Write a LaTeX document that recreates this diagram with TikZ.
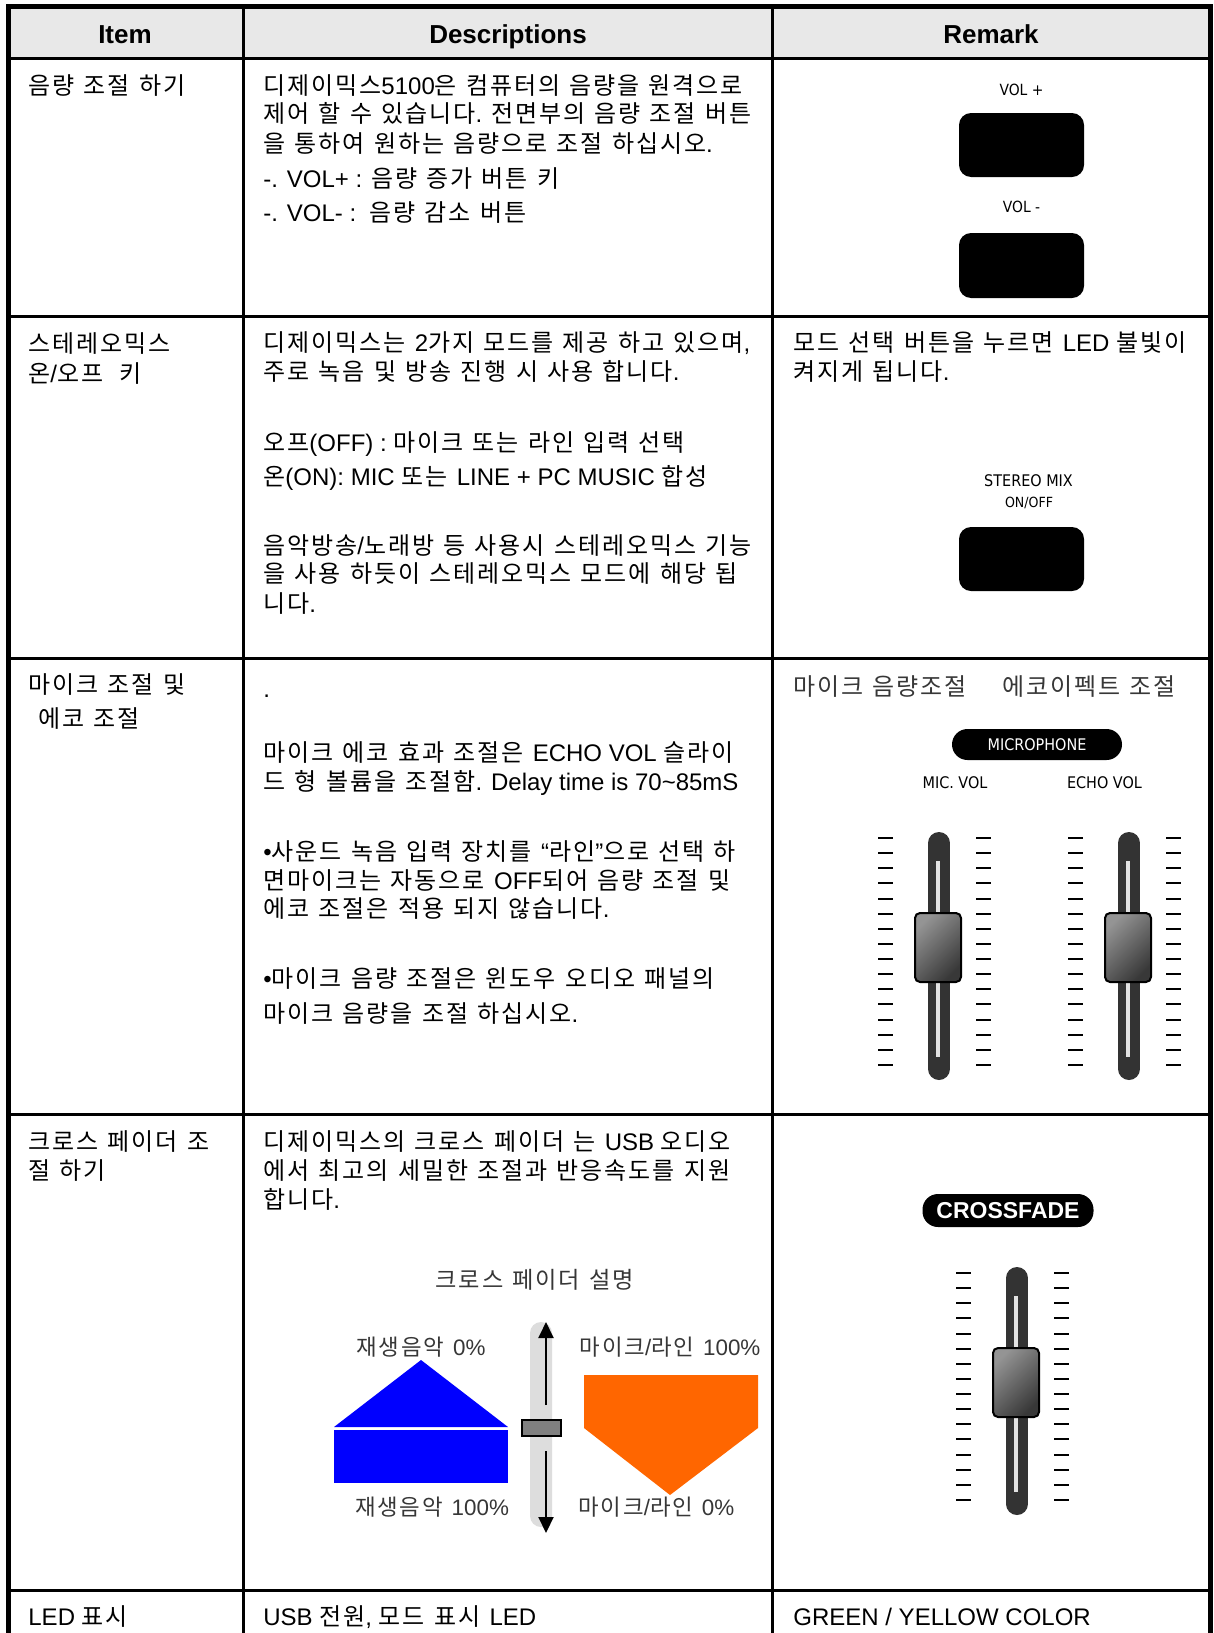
\documentclass[tikz,border=0pt]{standalone}
\usepackage{fontspec}
\setmainfont{Liberation Sans}
\newfontfamily\krfont[LetterSpace=8]{Noto Sans CJK KR}
\newfontfamily\lblfont[FakeStretch=0.9]{DejaVu Sans}
\usetikzlibrary{arrows.meta}
% automatic switch to the Korean font for Hangul syllables
\XeTeXinterchartokenstate=1
\newXeTeXintercharclass\krclass
\newcount\kri
\kri="AC00
\loop
\XeTeXcharclass\kri=\krclass
\ifnum\kri<"D7A3
\advance\kri by 1
\repeat
\XeTeXinterchartoks 0 \krclass = {\krfont}
\XeTeXinterchartoks 4095 \krclass = {\krfont}
\XeTeXinterchartoks \krclass 0 = {\rmfamily}
\XeTeXinterchartoks \krclass 4095 = {\rmfamily\kern1.3pt\relax}

\definecolor{hdr}{RGB}{232,232,232}
\definecolor{trk}{RGB}{51,51,51}
\definecolor{slotc}{RGB}{226,226,226}
\definecolor{fbar}{RGB}{221,221,221}
\definecolor{orng}{RGB}{255,102,0}
\definecolor{lblgray}{RGB}{55,55,55}

\tikzset{
  txt/.style={anchor=base west, yshift=-4.5pt, inner sep=0pt, font=\fontsize{12}{14}\selectfont},
  hd/.style={anchor=base, yshift=-4.65pt, inner sep=0pt, font=\bfseries\fontsize{13}{15}\selectfont},
  lbl/.style={inner sep=0pt, font=\lblfont\fontsize{8}{10}\selectfont},
  kgray/.style={inner sep=0pt, text=lblgray, font=\fontsize{11.2}{13}\selectfont},
  kgraybig/.style={inner sep=0pt, text=lblgray, font=\fontsize{12}{14}\selectfont},
  rule/.style={line width=1.5pt},
  frame/.style={line width=2.5pt},
  btn/.style={fill=black, rounded corners=6pt},
  tick/.style={line width=1pt},
  pill/.style={fill=black, text=white, inner sep=0pt, rounded corners=7.75pt},
}

\newcommand\drawfader[2]{%
\begin{scope}[shift={(#1,#2)}]
  \draw[line width=11pt, line cap=round, trk] (0,843) -- (0,1069);
  \draw[line width=2pt, slotc] (-1,861) -- (-1,1057);
  \foreach \k in {0,...,15}{
    \draw[tick] (-61,838+15.13*\k) -- (-46,838+15.13*\k);
    \draw[tick] (37,838+15.13*\k) -- (52,838+15.13*\k);
  }
  \shade[top color=black!42, bottom color=black!78, shading angle=45, rounded corners=2.5pt] (-24,913) rectangle (22,982);
  \draw[line width=1pt, rounded corners=2.5pt] (-24,913) rectangle (22,982);
\end{scope}}

\begin{document}
\begin{tikzpicture}[x=0.5pt, y=-0.5pt]
\useasboundingbox (0,0) rectangle (1214,1633);
\fill[white] (0,0) rectangle (1214,1633);

% header band
\fill[hdr] (8,7) rectangle (1210,58);

% table rules
\draw[rule] (8,58.5) -- (1210,58.5);
\draw[rule] (8,316.5) -- (1210,316.5);
\draw[rule] (8,658.5) -- (1210,658.5);
\draw[rule] (8,1114.5) -- (1210,1114.5);
\draw[rule] (8,1590.5) -- (1210,1590.5);
\draw[rule] (243.5,7) -- (243.5,1633);
\draw[rule] (772.5,7) -- (772.5,1633);
\draw[frame] (8.5,1633) -- (8.5,6.5) -- (1210.5,6.5) -- (1210.5,1633);

% header texts
\node[hd] (hitem) at (125,34) {Item};
\node[hd] (hdesc) at (508,34) {Descriptions};
\node[hd] (hrem) at (991,34) {Remark};

% ---------- row 1
\node[txt] (i1) at (28,85) {음량 조절 하기};
\node[txt] (d1a) at (263,85) {디제이믹스5100은 컴퓨터의 음량을 원격으로};
\node[txt] (d1b) at (263,113) {제어 할 수 있습니다. 전면부의 음량 조절 버튼};
\node[txt] (d1c) at (263,143) {을 통하여 원하는 음량으로 조절 하십시오.};
\node[txt] (d1d) at (263,178) {-. VOL+ : 음량 증가 버튼 키};
\node[txt] (d1e) at (263,212) {-. VOL- :\ \ 음량 감소 버튼};
\node[lbl, font=\lblfont\fontsize{7.7}{9}\selectfont] (volp) at (1021.5,90) {VOL +};
\fill[btn] (959,113) rectangle (1084,177);
\node[lbl, font=\lblfont\fontsize{7.7}{9}\selectfont] (volm) at (1021.5,207) {VOL -};
\fill[btn] (959,233) rectangle (1084,298);

% ---------- row 2
\node[txt] (i2a) at (28,343) {스테레오믹스};
\node[txt] (i2b) at (28,373) {온/오프\ \ 키};
\node[txt] (d2a) at (263,342) {디제이믹스는 2가지 모드를 제공 하고 있으며,};
\node[txt] (d2b) at (263,371) {주로 녹음 및 방송 진행 시 사용 합니다.};
\node[txt] (d2c) at (263,442) {오프(OFF) : 마이크 또는 라인 입력 선택};
\node[txt] (d2d) at (263,476) {온(ON): MIC 또는 LINE + PC MUSIC 합성};
\node[txt] (d2e) at (263,545) {음악방송/노래방 등 사용시 스테레오믹스 기능};
\node[txt] (d2f) at (263,573) {을 사용 하듯이 스테레오믹스 모드에 해당 됩};
\node[txt] (d2g) at (263,603) {니다.};
\node[txt] (r2a) at (793,342) {모드 선택 버튼을 누르면 LED 불빛이};
\node[txt] (r2b) at (793,371) {켜지게 됩니다.};
\node[lbl] (smix) at (1028.5,481) {STEREO MIX};
\node[lbl, font=\lblfont\fontsize{7}{9}\selectfont] (sonoff) at (1029,503) {ON/OFF};
\fill[btn] (959,527) rectangle (1084,591);

% ---------- row 3
\node[txt] (i3a) at (28,684) {마이크 조절 및};
\node[txt] (i3b) at (38,718) {에코 조절};
\node[txt] (d3dot) at (263,688) {.};
\node[txt] (d3a) at (263,752) {마이크 에코 효과 조절은 ECHO VOL 슬라이};
\node[txt] (d3b) at (263,781) {드 형 볼륨을 조절함. Delay time is 70\textasciitilde 85mS};
\node[txt] (d3c) at (263,851) {•사운드 녹음 입력 장치를 “라인”으로 선택 하};
\node[txt] (d3d) at (263,880) {면마이크는 자동으로 OFF되어 음량 조절 및};
\node[txt] (d3e) at (263,908) {에코 조절은 적용 되지 않습니다.};
\node[txt] (d3f) at (263,978) {•마이크 음량 조절은 윈도우 오디오 패널의};
\node[txt] (d3g) at (263,1013) {마이크 음량을 조절 하십시오.};
\node[kgraybig, anchor=west] (r3a) at (793,687) {마이크 음량조절};
\node[kgraybig, anchor=west] (r3b) at (1002,687) {에코이펙트 조절};
\node[pill, lbl, text=white, minimum width=85pt, minimum height=15.5pt] (micpill) at (1037,744.5) {MICROPHONE};
\node[lbl] (micvol) at (955,783) {MIC. VOL};
\node[lbl] (echovol) at (1104.5,783) {ECHO VOL};
\drawfader{939}{0}
\drawfader{1129}{0}

% ---------- row 4
\node[txt] (i4a) at (28,1141) {크로스 페이더 조};
\node[txt] (i4b) at (28,1170) {절 하기};
\node[txt] (d4a) at (263,1141) {디제이믹스의 크로스 페이더 는 USB 오디오};
\node[txt] (d4b) at (263,1170) {에서 최고의 세밀한 조절과 반응속도를 지원};
\node[txt] (d4c) at (263,1199) {합니다.};
\node[kgraybig, font=\fontsize{11.6}{13}\selectfont] (cftitle) at (536,1280) {크로스 페이더 설명};

\fill[blue] (334,1427) -- (421,1360) -- (508,1427) -- cycle;
\fill[blue] (334,1430) rectangle (508,1483);
\fill[orng] (584,1375) -- (758,1375) -- (758,1428) -- (670,1495) -- (584,1428) -- cycle;

\node[kgray] (l1) at (421,1347) {재생음악 0\%};
\node[kgray] (l2) at (432,1507) {재생음악 100\%};
\node[kgray] (l3) at (670,1347) {마이크/라인 100\%};
\node[kgray, anchor=west] (l4) at (578,1507) {마이크/라인 0\%};

\fill[fbar, rounded corners=5.5pt] (530,1322) rectangle (552,1527);
\coordinate (upfrom) at (546,1405);
\coordinate (upto) at (546,1322);
\coordinate (dnfrom) at (546,1451);
\coordinate (dnto) at (546,1533);
\draw[line width=1pt, -{Triangle[width=7.5pt,length=8pt]}] (upfrom) -- (upto);
\draw[line width=1pt, -{Triangle[width=7.5pt,length=8pt]}] (dnfrom) -- (dnto);
\draw[fill=black!50, line width=1.2pt] (522,1420) rectangle (561,1436);

\node[pill, minimum width=85.5pt, minimum height=16.5pt, font=\bfseries\fontsize{11.5}{13}\selectfont] (xfpill) at (1008,1210.5) {CROSSFADE};
\drawfader{1017}{435}

% ---------- row 5
\node[txt] (i5) at (28,1616) {LED 표시};
\node[txt] (d5) at (263,1616) {USB 전원, 모드 표시 LED};
\node[txt] (r5) at (793,1616) {GREEN / YELLOW COLOR};
\end{tikzpicture}
\end{document}
